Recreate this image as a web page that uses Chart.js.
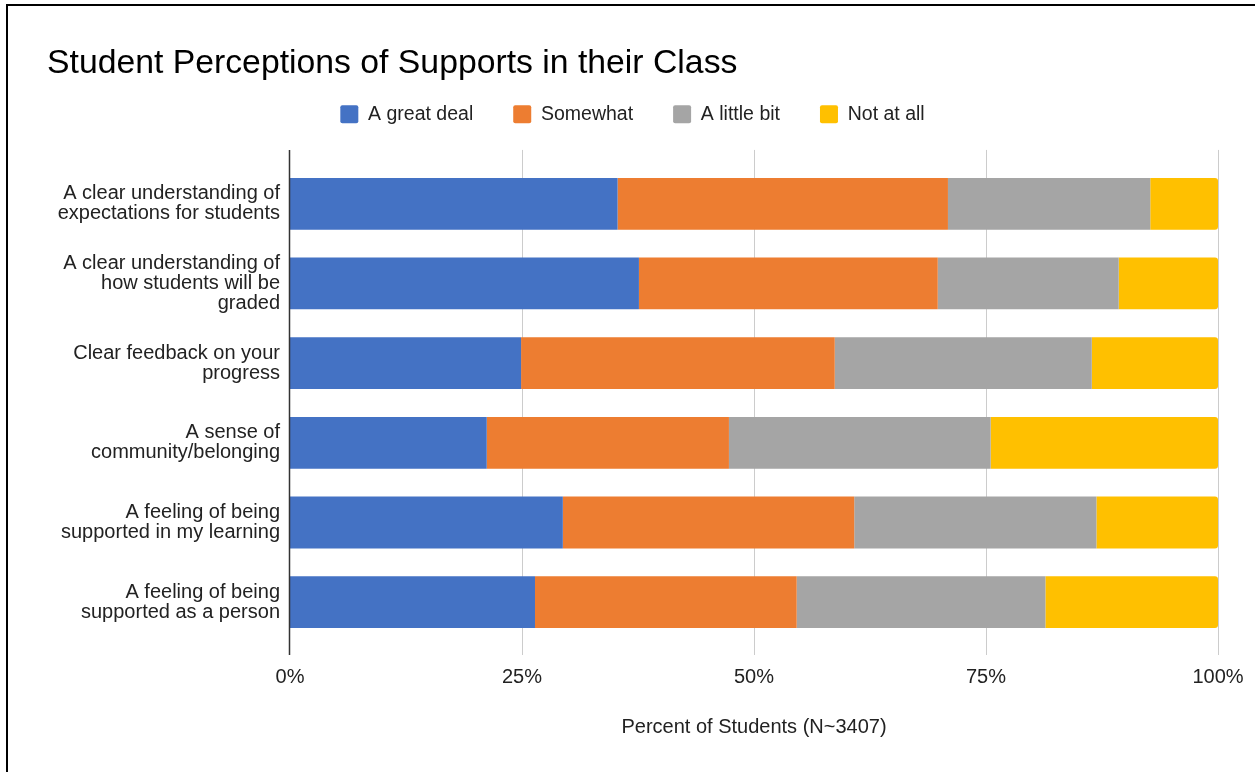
<!DOCTYPE html>
<html>
<head>
<meta charset="utf-8">
<script src="https://cdn.jsdelivr.net/npm/chart.js@4/dist/chart.umd.min.js"></script>
<style>
  body { margin: 0; background: #fff; }
  #frame {
    position: absolute; left: 6px; top: 4px;
    width: 1249px; height: 768px;
    border-left: 2px solid #000; border-top: 2px solid #000;
  }
</style>
</head>
<body>
<div id="frame"><canvas id="chart" width="1247" height="766"></canvas></div>
<script>
// =============================
// DATA
// =============================
const categories = [
  ["A clear understanding of", "expectations for students"],
  ["A clear understanding of", "how students will be", "graded"],
  ["Clear feedback on your", "progress"],
  ["A sense of", "community/belonging"],
  ["A feeling of being", "supported in my learning"],
  ["A feeling of being", "supported as a person"]
];
const seriesNames = ["A great deal", "Somewhat", "A little bit", "Not at all"];
const greatDeal = [35.3, 37.6, 24.9, 21.2, 29.4, 26.4];
const somewhat  = [35.6, 32.2, 33.8, 26.1, 31.4, 28.2];
const littleBit = [21.8, 19.5, 27.7, 28.2, 26.1, 26.8];
const notAtAll  = [7.3, 10.7, 13.6, 24.5, 13.1, 18.6];
const xTicks = [0, 25, 50, 75, 100];

const colors = ["#4472C4", "#ED7D31", "#A5A5A5", "#FFC000"];
const FONT = "'Liberation Sans', Arial, Helvetica, sans-serif";

// gridlines run a bit past the plot area (top and bottom), like the original
const gridPlugin = {
  id: "gridPlugin",
  beforeDatasetsDraw(chart) {
    const { ctx, chartArea, scales: { x } } = chart;
    ctx.save();
    ctx.lineWidth = 1;
    xTicks.forEach(v => {
      if (v === 0) return;
      const px = Math.round(x.getPixelForValue(v)) + 0.5;
      ctx.strokeStyle = "#cccccc";
      ctx.beginPath();
      ctx.moveTo(px, chartArea.top - 14);
      ctx.lineTo(px, chartArea.bottom + 13);
      ctx.stroke();
    });
    ctx.restore();
  },
  afterDatasetsDraw(chart) {
    const { ctx, chartArea, scales: { x } } = chart;
    const px = Math.round(x.getPixelForValue(0)) - 0.5;
    ctx.save();
    ctx.strokeStyle = "#333333";
    ctx.lineWidth = 1.5;
    ctx.beginPath();
    ctx.moveTo(px, chartArea.top - 14);
    ctx.lineTo(px, chartArea.bottom + 13);
    ctx.stroke();
    ctx.restore();
  }
};

const seriesData = [greatDeal, somewhat, littleBit, notAtAll];
const noSidePad = s => { s.paddingLeft = 0; s.paddingRight = 0; };

new Chart(document.getElementById("chart"), {
  type: "bar",
  data: {
    labels: categories,
    datasets: seriesNames.map((name, i) => ({
      label: name,
      data: seriesData[i],
      backgroundColor: colors[i],
      borderWidth: 0,
      borderRadius: i === 3 ? 3 : 0,
      barPercentage: 0.65,
      categoryPercentage: 1
    }))
  },
  options: {
    indexAxis: "y",
    responsive: false,
    animation: false,
    layout: { padding: { left: 39, right: 37, top: 0, bottom: 0 } },
    plugins: {
      title: {
        display: true,
        text: "Student Perceptions of Supports in their Class",
        align: "start",
        color: "#000",
        font: { family: FONT, size: 33.75, weight: "normal", lineHeight: 1.05 },
        padding: { top: 40, bottom: -17 }
      },
      legend: {
        display: true,
        labels: {
          color: "#222",
          font: { family: FONT, size: 19.5 },
          boxWidth: 18,
          boxHeight: 18,
          padding: 40,
          useBorderRadius: true,
          borderRadius: 2
        }
      },
      tooltip: { enabled: false }
    },
    scales: {
      x: {
        stacked: true,
        min: 0,
        max: 100,
        grid: { display: false, drawTicks: false },
        border: { display: false },
        afterBuildTicks: s => { s.ticks = xTicks.map(v => ({ value: v })); },
        afterFit: noSidePad,
        ticks: {
          color: "#222",
          font: { family: FONT, size: 20 },
          padding: 23,
          callback: v => v + "%"
        },
        title: {
          display: true,
          text: "Percent of Students (N~3407)",
          color: "#222",
          font: { family: FONT, size: 20 },
          padding: { top: 3, bottom: 33 }
        }
      },
      // spacer between legend and plot
      xTop: {
        type: "linear",
        position: "top",
        display: true,
        grid: { display: false, drawTicks: false },
        border: { display: false },
        ticks: { display: false },
        afterFit: s => { noSidePad(s); s.height = 30; }
      },
      y: {
        stacked: true,
        grid: { display: false, drawTicks: false },
        border: { display: false },
        ticks: {
          color: "#222",
          font: { family: FONT, size: 20, lineHeight: 1.0 },
          padding: 10
        },
        afterFit: s => { s.width = 243; }
      }
    }
  },
  plugins: [gridPlugin]
});
</script>
</body>
</html>
